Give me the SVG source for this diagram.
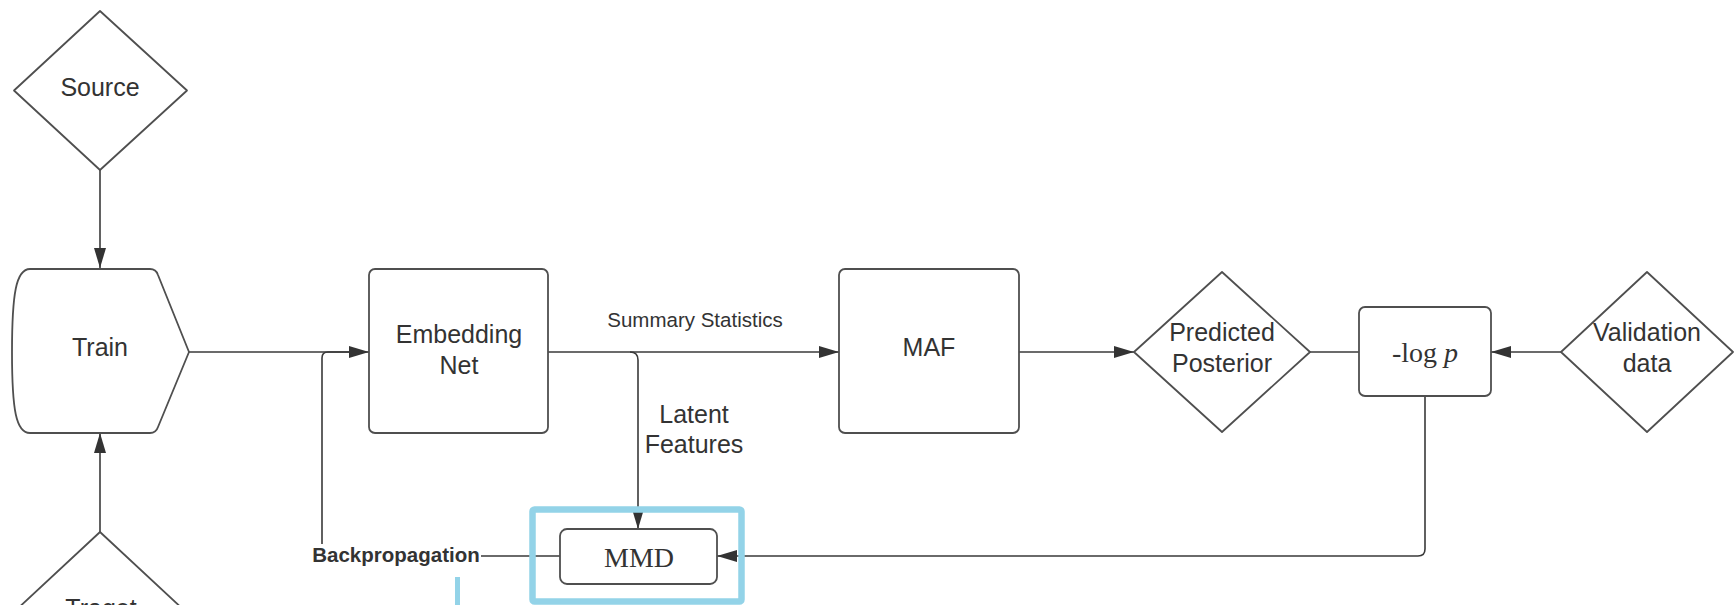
<svg xmlns="http://www.w3.org/2000/svg" width="1734" height="605" viewBox="0 0 1734 605">
  <defs>
    <style>
      .node { fill: #ffffff; stroke: #4f4f4f; stroke-width: 1.8; stroke-linejoin: round; }
      .edge { fill: none; stroke: #3a3a3a; stroke-width: 1.6; }
      .lbl { font-family: "Liberation Sans", Arial, sans-serif; font-size: 25px; fill: #333333; text-anchor: middle; }
      .small { font-size: 20.5px; }
      .bold { font-weight: bold; }
      .math { font-family: "Liberation Serif", "Times New Roman", serif; fill: #333333; text-anchor: middle; }
      .hl { fill: none; stroke: #93d3e8; stroke-width: 6.5; stroke-linejoin: round; }
    </style>
    <marker id="arrow" markerUnits="userSpaceOnUse" markerWidth="21" markerHeight="13" refX="20" refY="6" orient="auto">
      <path d="M0,0 L20,6 L0,12 Z" fill="#333333"/>
    </marker>
  </defs>

  <rect width="1734" height="605" fill="#ffffff"/>

  <!-- connectors -->
  <g id="connectors">
    <line class="edge" x1="100" y1="170" x2="100" y2="268" marker-end="url(#arrow)"/>
    <line class="edge" x1="100" y1="532" x2="100" y2="433" marker-end="url(#arrow)"/>
    <line class="edge" x1="189" y1="352" x2="369" y2="352" marker-end="url(#arrow)"/>
    <path class="edge" d="M560,556 H322 V358 Q322,352 328,352 H350"/>
    <line class="edge" x1="548" y1="352" x2="839" y2="352" marker-end="url(#arrow)"/>
    <path class="edge" d="M630,352 Q638,352 638,360 V529" marker-end="url(#arrow)"/>
    <line class="edge" x1="1019" y1="352" x2="1134" y2="352" marker-end="url(#arrow)"/>
    <line class="edge" x1="1310" y1="352" x2="1359" y2="352"/>
    <line class="edge" x1="1561" y1="352" x2="1491" y2="352" marker-end="url(#arrow)"/>
    <path class="edge" d="M1425,396 V549 Q1425,556 1418,556 H717" marker-end="url(#arrow)"/>
    <!-- edge labels -->
    <text class="lbl small" x="695" y="327">Summary Statistics</text>
    <text class="lbl" x="694" y="423">Latent</text>
    <text class="lbl" x="694" y="453">Features</text>
    <rect x="309" y="544" width="172" height="24" fill="#ffffff"/>
    <text class="lbl small bold" x="396" y="562">Backpropagation</text>
  </g>

  <g id="source">
    <polygon class="node" points="100,11 187,90.5 100,170 14,90.5"/>
    <text class="lbl" x="100" y="96">Source</text>
  </g>

  <g id="train">
    <path class="node" d="M30,269 H150 Q156,269 158,275 L189,352 L158,427 Q156,433 150,433 H30 C16,433 12,410 12,352 C12,294 16,269 30,269 Z"/>
    <text class="lbl" x="100" y="356">Train</text>
  </g>

  <g id="target">
    <polygon class="node" points="100,532 186,612 100,692 14,612"/>
    <text class="lbl" x="101" y="617">Traget</text>
  </g>

  <g id="embedding">
    <rect class="node" x="369" y="269" width="179" height="164" rx="6"/>
    <text class="lbl" x="459" y="343">Embedding</text>
    <text class="lbl" x="459" y="374">Net</text>
  </g>

  <g id="maf">
    <rect class="node" x="839" y="269" width="180" height="164" rx="6"/>
    <text class="lbl" x="929" y="356">MAF</text>
  </g>

  <g id="posterior">
    <polygon class="node" points="1222,272 1310,352 1222,432 1134,352"/>
    <text class="lbl" x="1222" y="341">Predicted</text>
    <text class="lbl" x="1222" y="372">Posterior</text>
  </g>

  <g id="neglogp">
    <rect class="node" x="1359" y="307" width="132" height="89" rx="6"/>
    <text class="math" x="1425" y="362" font-size="28">-log <tspan font-style="italic">p</tspan></text>
  </g>

  <g id="validation">
    <polygon class="node" points="1647,272 1733,352 1647,432 1561,352"/>
    <text class="lbl" x="1647" y="341">Validation</text>
    <text class="lbl" x="1647" y="372">data</text>
  </g>

  <g id="mmd">
    <rect class="node" x="560" y="529" width="157" height="55" rx="7"/>
    <text class="math" x="639" y="567" font-size="28">MMD</text>
  </g>

  <!-- highlight outlines -->
  <g id="highlight">
    <rect class="hl" x="532.5" y="509.5" width="209" height="92" rx="2"/>
    <line x1="457.5" y1="577" x2="457.5" y2="605" stroke="#93d3e8" stroke-width="5"/>
  </g>
</svg>
